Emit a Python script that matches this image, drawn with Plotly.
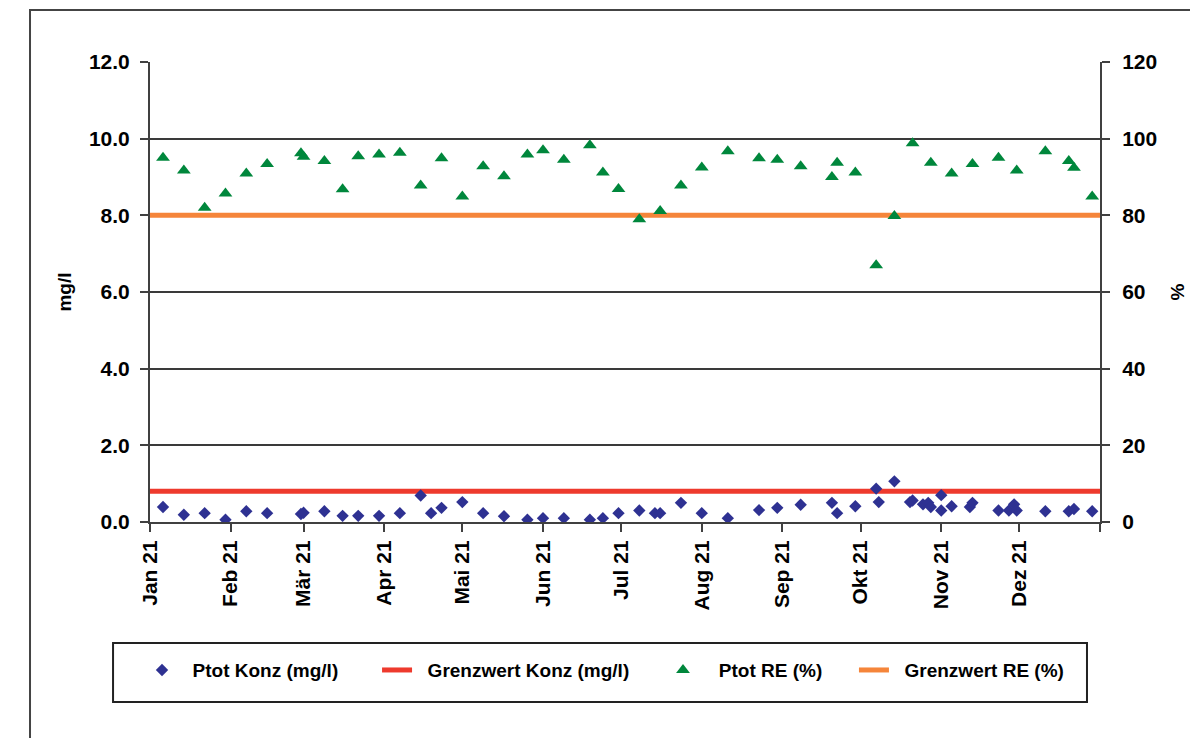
import plotly.graph_objects as go

# ---- data ----
konz_dates = ["2021-01-06", "2021-01-14", "2021-01-22", "2021-01-30", "2021-02-07", "2021-02-15",
              "2021-02-28", "2021-03-01", "2021-03-09", "2021-03-16", "2021-03-22", "2021-03-30",
              "2021-04-07", "2021-04-15", "2021-04-19", "2021-04-23", "2021-05-01", "2021-05-09",
              "2021-05-17", "2021-05-26", "2021-06-01", "2021-06-09", "2021-06-19", "2021-06-24",
              "2021-06-30", "2021-07-08", "2021-07-14", "2021-07-16", "2021-07-24", "2021-08-01",
              "2021-08-11", "2021-08-23", "2021-08-30", "2021-09-08", "2021-09-20", "2021-09-22",
              "2021-09-29", "2021-10-07", "2021-10-08", "2021-10-14", "2021-10-20", "2021-10-21",
              "2021-10-25", "2021-10-27", "2021-10-28", "2021-11-01", "2021-11-01", "2021-11-05",
              "2021-11-12", "2021-11-13", "2021-11-23", "2021-11-27", "2021-11-29", "2021-11-30",
              "2021-12-11", "2021-12-20", "2021-12-22", "2021-12-29"]
konz_values = [0.39, 0.19, 0.23, 0.06, 0.28, 0.23,
               0.21, 0.24, 0.28, 0.16, 0.16, 0.16,
               0.23, 0.69, 0.23, 0.37, 0.52, 0.23,
               0.15, 0.06, 0.10, 0.10, 0.06, 0.10,
               0.23, 0.30, 0.23, 0.23, 0.50, 0.23,
               0.10, 0.31, 0.37, 0.45, 0.50, 0.23,
               0.41, 0.87, 0.52, 1.06, 0.52, 0.56,
               0.46, 0.50, 0.39, 0.30, 0.70, 0.41,
               0.39, 0.50, 0.30, 0.30, 0.46, 0.30,
               0.28, 0.28, 0.34, 0.28]

re_dates = ["2021-01-06", "2021-01-14", "2021-01-22", "2021-01-30", "2021-02-07", "2021-02-15",
            "2021-02-28", "2021-03-01", "2021-03-09", "2021-03-16", "2021-03-22", "2021-03-30",
            "2021-04-07", "2021-04-15", "2021-04-23", "2021-05-01", "2021-05-09", "2021-05-17",
            "2021-05-26", "2021-06-01", "2021-06-09", "2021-06-19", "2021-06-24", "2021-06-30",
            "2021-07-08", "2021-07-16", "2021-07-24", "2021-08-01", "2021-08-11", "2021-08-23",
            "2021-08-30", "2021-09-08", "2021-09-20", "2021-09-22", "2021-09-29", "2021-10-07",
            "2021-10-14", "2021-10-21", "2021-10-28", "2021-11-05", "2021-11-13", "2021-11-23",
            "2021-11-30", "2021-12-11", "2021-12-20", "2021-12-22", "2021-12-29"]
re_values = [95.0, 91.7, 82.0, 85.7, 90.9, 93.4,
             96.2, 95.3, 94.2, 86.8, 95.4, 95.9,
             96.3, 87.8, 94.9, 84.9, 92.8, 90.2,
             95.9, 97.0, 94.5, 98.3, 91.2, 86.9,
             79.0, 81.1, 87.8, 92.5, 96.7, 94.9,
             94.5, 92.8, 90.0, 93.7, 91.2, 67.0,
             79.8, 98.8, 93.7, 90.9, 93.4, 95.0,
             91.7, 96.7, 94.2, 92.4, 84.9]

limit_dates = ["2021-01-01", "2022-01-01"]
grenzwert_konz = 0.8
grenzwert_re = 80

month_ticks = ["2021-01-01", "2021-02-01", "2021-03-01", "2021-04-01", "2021-05-01", "2021-06-01",
               "2021-07-01", "2021-08-01", "2021-09-01", "2021-10-01", "2021-11-01", "2021-12-01",
               "2022-01-01"]
month_labels = ["Jan 21", "Feb 21", "Mär 21", "Apr 21", "Mai 21", "Jun 21",
                "Jul 21", "Aug 21", "Sep 21", "Okt 21", "Nov 21", "Dez 21", ""]

# ---- styles ----
FONT = "Liberation Sans, Arial, sans-serif"
AX = "#404040"
BLUE = "#2e3192"
GREEN = "#00873c"
RED = "#ee3a2d"
ORANGE = "#f5853a"
PAD = "\u00a0\u00a0"

fig = go.Figure()
fig.add_trace(go.Scatter(x=limit_dates, y=[grenzwert_konz] * len(limit_dates), mode="lines",
                         name=PAD + "Grenzwert Konz (mg/l)", line=dict(color=RED, width=5),
                         legend="legend2", yaxis="y"))
fig.add_trace(go.Scatter(x=konz_dates, y=konz_values, mode="markers", name=PAD + "Ptot Konz (mg/l)",
                         marker=dict(symbol="diamond", size=9.5, color=BLUE),
                         legend="legend", yaxis="y"))
fig.add_trace(go.Scatter(x=limit_dates, y=[grenzwert_re] * len(limit_dates), mode="lines",
                         name=PAD + "Grenzwert RE (%)", line=dict(color=ORANGE, width=5),
                         legend="legend4", yaxis="y2"))
fig.add_trace(go.Scatter(x=re_dates, y=re_values, mode="markers", name=PAD + "\u00a0Ptot RE (%)",
                         marker=dict(symbol="triangle-up", size=12, color=GREEN),
                         legend="legend3", yaxis="y2"))

lfont = dict(family=FONT, size=19, color="black", weight="bold")
leg_common = dict(orientation="h", yanchor="middle", y=-0.322, xanchor="left",
                  bgcolor="rgba(0,0,0,0)", borderwidth=0, font=lfont)
tfont = dict(family=FONT, size=21, color="black", weight="bold")

fig.update_layout(
    width=1190, height=730,
    margin=dict(l=142, r=98, t=54, b=216),
    paper_bgcolor="white", plot_bgcolor="white",
    font=dict(family=FONT, color="black"),
    xaxis=dict(type="date", range=["2021-01-01", "2022-01-01"],
               tickvals=month_ticks, ticktext=month_labels, tickangle=-90,
               tickfont=tfont,
               ticks="outside", ticklen=8, tickwidth=2, tickcolor=AX,
               showline=True, linecolor=AX, linewidth=2, showgrid=False, zeroline=False),
    yaxis=dict(range=[0, 12], dtick=2, tickformat=".1f",
               tickfont=tfont, ticklabelstandoff=6,
               ticks="outside", ticklen=8, tickwidth=2, tickcolor=AX,
               showline=True, linecolor=AX, linewidth=2,
               showgrid=True, gridcolor="#3a3a3a", gridwidth=1.5, zeroline=False,
               title=dict(text="mg/l", font=dict(family=FONT, size=19, color="black", weight="bold"),
                          standoff=12)),
    yaxis2=dict(range=[0, 120], dtick=20, overlaying="y", side="right",
                tickfont=tfont, ticklabelstandoff=8,
                ticks="outside", ticklen=8, tickwidth=2, tickcolor=AX,
                showline=True, linecolor=AX, linewidth=2, showgrid=False, zeroline=False,
                title=dict(text="%", font=dict(family=FONT, size=19, color="black", weight="bold"),
                           standoff=14)),
    legend=dict(x=-0.0084, **leg_common),
    legend2=dict(x=0.239, **leg_common),
    legend3=dict(x=0.54, **leg_common),
    legend4=dict(x=0.741, **leg_common),
    showlegend=True,
    shapes=[
        dict(type="rect", xref="paper", yref="paper", x0=-0.0389, x1=0.9863, y0=-0.3913, y1=-0.263,
             line=dict(color="#222222", width=2), fillcolor="rgba(0,0,0,0)", layer="above"),
        dict(type="rect", xref="paper", yref="paper", x0=-0.1263, x1=1.2, y0=-0.7, y1=1.113,
             line=dict(color="#444444", width=2), fillcolor="rgba(0,0,0,0)", layer="below"),
    ],
)

fig.write_html("out.html")
